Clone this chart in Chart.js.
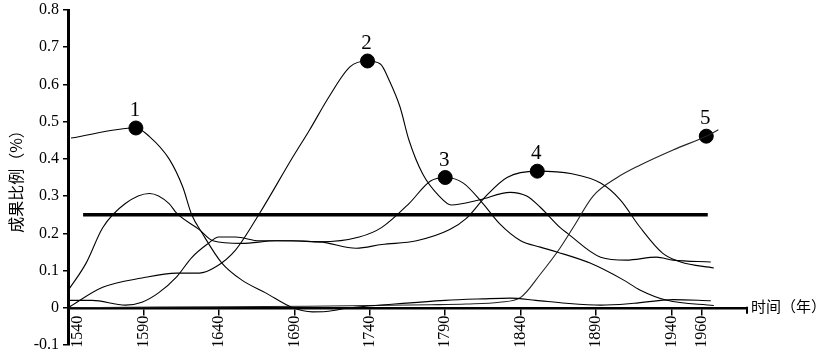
<!DOCTYPE html>
<html>
<head>
<meta charset="utf-8">
<script src="https://cdn.jsdelivr.net/npm/chart.js@4/dist/chart.umd.min.js"></script>
<style>
html,body{margin:0;padding:0;background:#fff;}
#wrap{position:relative;width:828px;height:355px;}
</style>
</head>
<body>
<div id="wrap"><canvas id="c" width="828" height="355"></canvas></div>
<script>
// ---- data (years, share %) ----
const xTickValues = [1540,1590,1640,1690,1740,1790,1840,1890,1940,1960];
const yTitle = '成果比例（%）';
const xTitle = '时间（年）';

const s1Years = [1542,1585,1594,1607,1616,1622,1629,1642,1655,1671,1689,1702,1711,1727,1750,1790,1815,1833,1850,1870,1893,1915,1941,1966];
const s1Vals  = [0.456,0.483,0.46,0.40,0.325,0.25,0.20,0.12,0.075,0.04,0.0,-0.011,-0.01,0.0,0.008,0.02,0.024,0.026,0.02,0.012,0.007,0.012,0.022,0.019];

const s2Years = [1540,1563,1589,1612,1627,1638,1651,1667,1689,1700,1713,1727,1738.5,1747,1753,1760,1766,1775,1786,1794,1813,1833,1844,1853,1866,1871,1893,1910,1930,1941,1966];
const s2Vals  = [0.0,0.055,0.08,0.093,0.093,0.11,0.155,0.254,0.405,0.477,0.567,0.648,0.663,0.655,0.61,0.54,0.45,0.36,0.30,0.276,0.29,0.31,0.30,0.27,0.216,0.2,0.136,0.128,0.136,0.128,0.123];

const s3Years = [1540,1556,1578,1589,1600,1612,1622,1632,1640,1651,1667,1689,1707,1733,1748,1766,1780,1790,1802,1815,1826,1840,1853,1864,1886,1908,1919,1937,1968];
const s3Vals  = [0.02,0.02,0.007,0.015,0.04,0.083,0.135,0.17,0.19,0.19,0.18,0.18,0.177,0.19,0.216,0.28,0.34,0.35,0.335,0.28,0.226,0.18,0.163,0.15,0.12,0.075,0.048,0.02,0.006];

const s4Years = [1540,1552,1563,1578,1594,1607,1612,1627,1636,1655,1678,1707,1731,1748,1771,1793,1804,1817,1831,1851,1874,1893,1906,1919,1934,1946,1968];
const s4Vals  = [0.046,0.12,0.215,0.28,0.307,0.28,0.254,0.21,0.18,0.173,0.18,0.177,0.16,0.17,0.18,0.21,0.24,0.30,0.35,0.367,0.36,0.335,0.29,0.217,0.147,0.123,0.107];

const s5Years = [1540,1600,1700,1780,1804,1826,1840,1853,1866,1875,1888,1904,1919,1941,1963,1971];
const s5Vals  = [0.0,0.002,0.004,0.008,0.01,0.015,0.028,0.09,0.16,0.217,0.3,0.35,0.383,0.424,0.461,0.478];

const refYears = [1550,1964];
const refVals  = [0.25,0.25];

const peakLabels = ['1','2','3','4','5'];
const peakYears  = [1585,1738.5,1790,1851,1963];
const peakVals   = [0.483,0.663,0.35,0.367,0.461];

// ---- build ----
const pts = (xs, ys) => xs.map((x,i)=>({x:x,y:ys[i]}));
const curve = (xs, ys, col) => ({
  data: pts(xs, ys), borderColor: col || '#000', borderWidth:1.1, pointRadius:0,
  cubicInterpolationMode:'monotone', fill:false
});

const serif = "'Liberation Serif','Times New Roman',serif";
const cjk = "'Noto Sans CJK SC','Noto Sans',sans-serif";
const tickFont = 16;

const extras = {
  id:'extras',
  afterDatasetsDraw(chart){
    const ctx = chart.ctx;
    const meta = chart.getDatasetMeta(chart.data.datasets.length-1);
    ctx.save();
    ctx.fillStyle = '#000';
    ctx.font = '21px ' + serif;
    ctx.textAlign = 'center';
    ctx.textBaseline = 'alphabetic';
    meta.data.forEach((el,i)=>{
      ctx.fillText(peakLabels[i], el.x - 1, el.y - 12);
    });
    ctx.restore();
  },
  afterDraw(chart){
    const ctx = chart.ctx;
    const xs = chart.scales.x, ys = chart.scales.y;
    const y0 = ys.getPixelForValue(0);
    ctx.save();
    ctx.fillStyle = '#000';
    // x axis end tick
    ctx.strokeStyle = '#000'; ctx.lineWidth = 2;
    ctx.beginPath(); ctx.moveTo(xs.right, y0 - 1); ctx.lineTo(xs.right, y0 + 6); ctx.stroke();
    // x title
    ctx.font = '15px ' + cjk;
    ctx.textAlign = 'left'; ctx.textBaseline = 'middle';
    ctx.fillText(xTitle, xs.right + 4, y0 - 1);
    // first x tick label, nudged right of the y axis
    ctx.save();
    ctx.translate(xs.getPixelForValue(xTickValues[0]) + 10, y0 + 8);
    ctx.rotate(-Math.PI/2);
    ctx.font = tickFont + 'px ' + serif;
    ctx.textAlign = 'right'; ctx.textBaseline = 'middle';
    ctx.fillText(String(xTickValues[0]), 0, 0);
    ctx.restore();
    // y title
    ctx.translate(16, (ys.top + ys.bottom)/2);
    ctx.rotate(-Math.PI/2);
    ctx.textAlign = 'center'; ctx.textBaseline = 'middle';
    ctx.font = '16px ' + cjk;
    ctx.fillText(yTitle, 0, 0);
    ctx.restore();
  }
};

Chart.defaults.color = '#000';
new Chart(document.getElementById('c'), {
  type:'line',
  data:{
    datasets:[
      curve(s1Years, s1Vals),
      curve(s2Years, s2Vals),
      curve(s3Years, s3Vals),
      curve(s4Years, s4Vals),
      curve(s5Years, s5Vals, '#222'),
      { data: pts(refYears, refVals), borderColor:'#000', borderWidth:3.5, pointRadius:0, tension:0 },
      { type:'scatter', data: pts(peakYears, peakVals), backgroundColor:'#000', borderColor:'#000', pointRadius:7, pointHoverRadius:7 }
    ]
  },
  options:{
    responsive:false, animation:false,
    layout:{ padding:{ left:0, right:81, top:10, bottom:10 } },
    plugins:{ legend:{display:false}, tooltip:{enabled:false} },
    scales:{
      x:{
        type:'linear', min:1540, max:1990, position:{ y:0 },
        afterBuildTicks(scale){ scale.ticks = xTickValues.map(v=>({value:v})); },
        ticks:{ minRotation:90, maxRotation:90, autoSkip:false, padding:2,
                font:{ family:serif, size:tickFont }, color:'#000',
                callback:(v)=> v === xTickValues[0] ? '' : String(v) },
        grid:{ drawOnChartArea:false, drawTicks:true, tickLength:6, color:'#000', lineWidth:1.5 },
        border:{ display:true, color:'#000', width:2.5 }
      },
      y:{
        min:-0.1, max:0.8,
        afterFit(scale){ scale.width = 68; scale.paddingTop = 0; scale.paddingBottom = 0; },
        ticks:{ stepSize:0.1, padding:4, font:{ family:serif, size:tickFont }, color:'#000' },
        grid:{ drawOnChartArea:false, drawTicks:true, tickLength:5, color:'#000', lineWidth:1.5 },
        border:{ display:true, color:'#000', width:3 }
      }
    }
  },
  plugins:[extras]
});
</script>
</body>
</html>
